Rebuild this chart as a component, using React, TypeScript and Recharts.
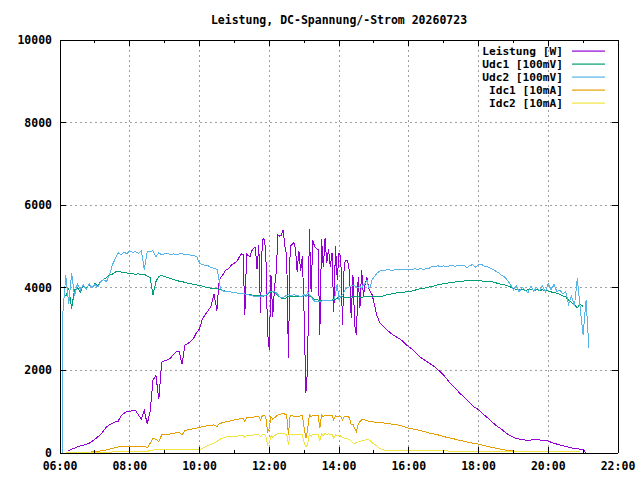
import React from 'react';
import { LineChart, Line, XAxis, YAxis, CartesianGrid, Legend } from 'recharts';

// ---- time axis (minutes since midnight) ----
const timesMorning = [
  364, 365, 370, 375, 380, 385, 390, 395, 400, 405,
  410, 415, 420, 425, 430, 435, 440, 445, 450, 455,
  460, 465, 470, 475, 480, 485, 490, 495, 500, 505,
  510, 515, 520, 525, 530, 535, 540, 545, 550, 555,
  560, 565, 570, 575, 580, 585, 590, 595, 600, 605,
  610, 615, 620, 625,
];
const timesMidday = [
  630, 633, 636, 639, 642, 645, 648, 651, 654, 657,
  660, 663, 666, 669, 672, 675, 678, 681, 684, 687,
  690, 693, 696, 699, 702, 705, 708, 711, 714, 717,
  720, 723, 726, 729, 732, 735, 738, 741, 744, 747,
  750, 753, 756, 759, 762, 765, 768, 771, 774, 777,
  780, 783, 786, 789, 792, 795, 798, 801, 804, 807,
  810, 813, 816, 819, 822, 825, 828, 831, 834, 837,
  840, 843, 846, 849, 852, 855, 858, 861, 864, 867,
  870, 873, 876, 879, 882, 885, 888, 891, 894, 897,
];
const timesEvening = [
  900, 905, 910, 915, 920, 925, 930, 935, 940, 945,
  950, 955, 960, 965, 970, 975, 980, 985, 990, 995,
  1000, 1005, 1010, 1015, 1020, 1025, 1030, 1035, 1040, 1045,
  1050, 1055, 1060, 1065, 1070, 1075, 1080, 1085, 1090, 1095,
  1100, 1105, 1110, 1115, 1120, 1125, 1130, 1135, 1140, 1145,
  1150, 1155, 1160, 1165, 1170, 1175, 1180, 1185, 1190, 1195,
  1200, 1205, 1210, 1215, 1220, 1225, 1230, 1235, 1240, 1245,
  1250, 1255, 1260, 1265, 1270,
];

// ---- Leistung [W] ----
const leistungMorning = [
  null, null, null, 50, 90, 120, 150, 170, 190, 210,
  235, 280, 330, 390, 450, 540, 630, 680, 720, 750,
  770, 900, 960, 1000, 1010, 1025, 1025, 920, 820, 1040,
  700, 1000, 1760, 1880, 1300, 2200, 2230, 2260, 2300, 2380,
  2450, 2460, 2150, 2620, 2650, 2700, 2780, 2920, 3000, 3250,
  3350, 3450, 3560, 3850,
];
const leistungMidday = [
  3450, 4070, 4250, 4290, 4350, 4430, 4440, 4480, 4540, 4570,
  4600, 4630, 4680, 4760, 4820, 4800, 3340, 4820, 4780, 4760,
  4900, 4960, 4980, 4450, 5040, 3400, 5150, 5190, 4900, 2940,
  2500, 4300, 3300, 4000, 4390, 5280, 5250, 5280, 5400, 4990,
  4800, 2290, 5000, 5050, 5100, 4960, 4390, 4900, 4400, 4760,
  3340, 1450, 2050, 5430, 3905, 5150, 5000, 4950, 4920, 2860,
  5180, 4500, 5200, 4600, 4950, 4500, 4840, 3420, 5000, 4190,
  4840, 4760, 3100, 4600, 4670, 4650, 4400, 3260, 4310, 3100,
  2860, 4270, 3500, 4430, 3800, 4100, 4250, 4000, 3905, 3830,
];
const leistungEvening = [
  3650, 3340, 3160, 3080, 3010, 2950, 2890, 2840, 2800, 2760,
  2700, 2630, 2570, 2520, 2460, 2380, 2320, 2270, 2220, 2180,
  2130, 2080, 2020, 1960, 1890, 1800, 1710, 1640, 1570, 1490,
  1420, 1350, 1280, 1210, 1140, 1090, 1050, 980, 920, 860,
  800, 730, 670, 620, 570, 510, 460, 420, 380, 355,
  335, 320, 315, 310, 315, 320, 315, 315, 310, 300,
  290, 260, 235, 215, 195, 175, 155, 140, 125, 110,
  100, 95, 85, 0, null,
];

// ---- Udc1 [100mV] ----
const udc1Morning = [
  null, null, 3800, 4000, 3500, 3950, 4000, 3900, 4050, 3980,
  4080, 4000, 4100, 4050, 4150, 4200, 4250, 4300, 4330, 4380,
  4400, 4380, 4360, 4360, 4350, 4340, 4330, 4340, 4320, 4330,
  4280, 4250, 3830, 4150, 4280, 4300, 4270, 4250, 4230, 4200,
  4180, 4160, 4150, 4130, 4110, 4100, 4080, 4070, 4060, 4040,
  4020, 4000, 3990, 3985,
];
const udc1Midday = [
  3980, 3960, 3950, 3940, 3930, 3920, 3910, 3900, 3900, 3890,
  3885, 3880, 3870, 3870, 3866, 3860, 3850, 3845, 3840, 3830,
  3825, 3820, 3815, 3810, 3810, 3805, 3800, 3800, 3810, 3850,
  3880, 3900, 3900, 3890, 3850, 3800, 3780, 3750, 3745, 3745,
  3760, 3780, 3790, 3790, 3790, 3785, 3780, 3780, 3790, 3800,
  3810, 3820, 3810, 3800, 3780, 3750, 3720, 3710, 3705, 3700,
  3700, 3700, 3700, 3700, 3700, 3700, 3705, 3710, 3720, 3750,
  3780, 3790, 3780, 3770, 3760, 3760, 3770, 3780, 3790, 3800,
  3790, 3780, 3770, 3770, 3780, 3790, 3790, 3800, 3800, 3800,
];
const udc1Evening = [
  3800, 3790, 3785, 3800, 3820, 3840, 3850, 3860, 3880, 3890,
  3895, 3900, 3905, 3920, 3940, 3960, 3980, 3990, 4000, 4020,
  4030, 4050, 4070, 4080, 4100, 4110, 4120, 4130, 4140, 4150,
  4160, 4165, 4170, 4170, 4170, 4170, 4165, 4165, 4160, 4160,
  4155, 4140, 4120, 4100, 4080, 4070, 4050, 4020, 3990, 3960,
  3950, 3960, 3940, 3950, 3960, 3940, 3950, 3940, 3950, 3930,
  3920, 3900, 3880, 3870, 3840, 3800, 3780, 3700, 3650, 3580,
  3520, 3600, 3550, null, null,
];

// ---- Udc2 [100mV] ----
const udc2Morning = [
  0, 3400, 4300, 3600, 4350, 3800, 4100, 3950, 4080, 3960,
  4100, 4000, 4080, 4020, 4150, 4200, 4150, 4300, 4550, 4700,
  4850, 4800, 4870, 4820, 4900, 4850, 4880, 4830, 4900, 4440,
  4870, 4870, 4900, 4750, 4850, 4800, 4820, 4830, 4800, 4820,
  4800, 4820, 4820, 4810, 4800, 4790, 4780, 4760, 4600, 4560,
  4540, 4530, 4490, 4470,
];
const udc2Midday = [
  4450, 4250, 3985, 3930, 3920, 3910, 3910, 3900, 3900, 3890,
  3890, 3880, 3870, 3870, 3860, 3870, 3850, 3830, 3830, 3820,
  3810, 3800, 3800, 3800, 3800, 3790, 3800, 3810, 3820, 3860,
  3900, 3920, 3900, 3910, 3880, 3840, 3780, 3770, 3760, 3790,
  3820, 3830, 3825, 3820, 3830, 3825, 3810, 3800, 3790, 3800,
  3840, 3780, 3900, 3830, 3800, 3720, 3680, 3665, 3660, 3670,
  3680, 3690, 3690, 3700, 3690, 3700, 3690, 3710, 3850, 4100,
  3700, 3800, 3830, 3900, 3985, 4000, 4030, 4050, 4060, 4050,
  4030, 4000, 4030, 3980, 4080, 4100, 4190, 4000, 4020, 4200,
];
const udc2Evening = [
  4250, 4350, 4400, 4430, 4430, 4440, 4420, 4430, 4440, 4450,
  4430, 4440, 4450, 4440, 4460, 4450, 4460, 4450, 4460, 4470,
  4520, 4520, 4530, 4520, 4530, 4520, 4530, 4540, 4520, 4540,
  4530, 4550, 4480, 4540, 4560, 4500, 4560, 4570, 4520, 4510,
  4480, 4440, 4400, 4360, 4300, 4260, 4180, 4080, 3950, 4050,
  3900, 4020, 3950, 3880, 4040, 3920, 4010, 3930, 4050, 3900,
  4100, 3950, 4080, 3900, 3950, 3850, 3920, 3600, 3800, 3550,
  4230, 3500, 2860, 3700, 2540,
];

// ---- Idc1 [10mA] ----
const idc1Morning = [
  null, null, 0, 5, 5, 10, 10, 15, 15, 20,
  20, 25, 30, 40, 50, 60, 73, 90, 110, 130,
  145, 150, 155, 160, 160, 165, 165, 160, 160, 170,
  120, 234, 355, 330, 280, 436, 440, 450, 460, 470,
  490, 500, 440, 540, 560, 575, 590, 605, 622, 635,
  650, 660, 670, 680,
];
const idc1Midday = [
  640, 700, 720, 730, 740, 758, 765, 770, 780, 790,
  800, 805, 810, 830, 840, 845, 760, 850, 855, 860,
  865, 870, 875, 880, 880, 800, 900, 920, 880, 518,
  600, 880, 820, 850, 890, 920, 930, 950, 960, 940,
  920, 436, 910, 900, 890, 880, 870, 880, 900, 910,
  600, 355, 560, 920, 880, 910, 910, 900, 905, 600,
  920, 880, 920, 900, 915, 900, 915, 800, 910, 880,
  900, 880, 800, 880, 885, 880, 860, 678, 700, 600,
  518, 700, 760, 800, 820, 800, 790, 770, 760, 755,
];
const idc1Evening = [
  750, 745, 740, 735, 720, 710, 700, 690, 680, 670,
  645, 620, 600, 590, 575, 560, 545, 525, 505, 485,
  470, 455, 440, 420, 400, 380, 365, 350, 335, 315,
  300, 285, 265, 250, 240, 225, 215, 195, 180, 160,
  145, 130, 115, 100, 90, 75, 60, 52, 48, 45,
  42, 42, 41, 40, 40, 40, 40, 39, 38, 38,
  37, 37, 36, 36, 35, 35, 35, 34, 34, 33,
  33, 32, null, null, null,
];

// ---- Idc2 [10mA] ----
const idc2Morning = [
  null, null, 0, 2, 4, 5, 6, 8, 10, 10,
  12, 14, 15, 16, 18, 20, 20, 22, 24, 25,
  26, 27, 28, 28, 29, 30, 30, 30, 30, 30,
  30, 70, 73, 73, 73, 73, 73, 73, 73, 73,
  73, 73, 73, 73, 73, 73, 73, 73, 80, 110,
  150, 185, 210, 240,
];
const idc2Midday = [
  280, 310, 340, 360, 370, 385, 390, 395, 400, 405,
  405, 410, 410, 415, 420, 420, 380, 425, 430, 430,
  435, 436, 440, 440, 445, 400, 450, 455, 430, 194,
  250, 420, 380, 420, 450, 470, 470, 475, 480, 460,
  450, 200, 450, 440, 440, 436, 436, 440, 440, 440,
  250, 153, 200, 470, 400, 460, 460, 460, 455, 300,
  460, 420, 475, 450, 465, 450, 460, 350, 440, 420,
  420, 410, 380, 360, 355, 340, 320, 290, 240, 234,
  250, 270, 280, 300, 310, 315, 320, 315, 300, 250,
];
const idc2Evening = [
  220, 170, 110, 80, 65, 60, 58, 57, 56, 55,
  55, 55, 54, 54, 53, 53, 52, 52, 52, 51,
  51, 50, 50, 50, 49, 49, 48, 48, 48, 47,
  47, 46, 46, 45, 45, 45, 44, 44, 44, 43,
  43, 42, 42, 42, 41, 41, 40, 40, 40, 39,
  39, 39, 38, 38, 38, 37, 37, 37, 36, 36,
  36, 35, 35, 35, 34, 34, 34, 33, 33, 33,
  32, 32, null, null, null,
];

// ---- axis ticks ----
const hourTicks = [360, 420, 480, 540, 600, 660, 720, 780, 840, 900, 960, 1020, 1080, 1140, 1200, 1260, 1320];
const majorTicks = [360, 480, 600, 720, 840, 960, 1080, 1200, 1320];
const xTickLabels = ['06:00', '08:00', '10:00', '12:00', '14:00', '16:00', '18:00', '20:00', '22:00'];
const yTicks = [0, 2000, 4000, 6000, 8000, 10000];

const seriesNames = ['Leistung [W]', 'Udc1 [100mV]', 'Udc2 [100mV]', 'Idc1 [10mA]', 'Idc2 [10mA]'];
const seriesColors = ['#9400d3', '#009e73', '#56b4e9', '#e69f00', '#f0e442'];
const title = 'Leistung, DC-Spannung/-Strom 20260723';

const times = [...timesMorning, ...timesMidday, ...timesEvening];
const leistung = [...leistungMorning, ...leistungMidday, ...leistungEvening];
const udc1 = [...udc1Morning, ...udc1Midday, ...udc1Evening];
const udc2 = [...udc2Morning, ...udc2Midday, ...udc2Evening];
const idc1 = [...idc1Morning, ...idc1Midday, ...idc1Evening];
const idc2 = [...idc2Morning, ...idc2Midday, ...idc2Evening];

const data = times.map((t, i) => ({
  t,
  s0: leistung[i],
  s1: udc1[i],
  s2: udc2[i],
  s3: idc1[i],
  s4: idc2[i],
}));

const FONT: React.CSSProperties = {
  fontFamily: "'DejaVu Sans Mono', 'Liberation Mono', monospace",
  fontWeight: 700,
  fontSize: 11.5,
};
const LEGEND_FONT: React.CSSProperties = { ...FONT, fontSize: 11.2 };

const BottomTick = (props: any) => {
  const { x, y, payload } = props;
  const idx = majorTicks.indexOf(payload.value);
  const major = idx >= 0;
  return (
    <g>
      <line x1={x} y1={y} x2={x} y2={y - (major ? 6 : 3)} stroke="#000" shapeRendering="crispEdges" />
      {major && (
        <text x={x} y={y + 17} textAnchor="middle" fill="#000" style={FONT}>
          {xTickLabels[idx]}
        </text>
      )}
    </g>
  );
};

const TopTick = (props: any) => {
  const { x, y, payload } = props;
  const major = majorTicks.indexOf(payload.value) >= 0;
  return <line x1={x} y1={y} x2={x} y2={y + (major ? 6 : 3)} stroke="#000" shapeRendering="crispEdges" />;
};

const LeftTick = (props: any) => {
  const { x, y, payload } = props;
  return (
    <g>
      <line x1={x} y1={y} x2={x + 6} y2={y} stroke="#000" shapeRendering="crispEdges" />
      <text x={x - 8} y={y} textAnchor="end" dominantBaseline="central" fill="#000" style={FONT}>
        {payload.value}
      </text>
    </g>
  );
};

const RightTick = (props: any) => {
  const { x, y } = props;
  return <line x1={x} y1={y} x2={x - 6} y2={y} stroke="#000" shapeRendering="crispEdges" />;
};

const LegendBox = (props: any) => {
  const payload = [...(props.payload || [])].sort(
    (a: any, b: any) => seriesNames.indexOf(a.value) - seriesNames.indexOf(b.value)
  );
  return (
    <svg width={150} height={72} style={{ display: 'block' }}>
      {payload.map((p: any, i: number) => {
        const yy = 7 + i * 13;
        const k = seriesNames.indexOf(p.value);
        const color = k >= 0 ? seriesColors[k] : p.color;
        return (
          <g key={String(p.value)}>
            <text x={93} y={yy} textAnchor="end" dominantBaseline="central" fill="#000" style={LEGEND_FONT}>
              {p.value}
            </text>
            <rect x={102} y={yy - 0.5} width={33} height={1.2} fill={color} />
          </g>
        );
      })}
    </svg>
  );
};

export default function App() {
  return (
    <div style={{ position: 'absolute', left: 0, top: 0, width: 640, height: 480, background: '#fff' }}>
      <div
        style={{
          ...FONT,
          position: 'absolute',
          left: 139,
          top: 13,
          width: 400,
          lineHeight: '14px',
          textAlign: 'center',
          whiteSpace: 'nowrap',
          color: '#000',
        }}
      >
        {title}
      </div>
      <LineChart width={640} height={480} data={data} margin={{ top: 0, right: 0, bottom: 0, left: 0 }}>
        <CartesianGrid xAxisId="grid" yAxisId="left" stroke="#a0a0a0" strokeDasharray="2 3" shapeRendering="crispEdges" />
        <XAxis
          xAxisId="grid"
          dataKey="t"
          type="number"
          domain={[360, 1320]}
          ticks={majorTicks}
          allowDataOverflow
          hide
        />
        <XAxis
          xAxisId="b"
          dataKey="t"
          type="number"
          orientation="bottom"
          domain={[360, 1320]}
          ticks={hourTicks}
          interval={0}
          allowDataOverflow
          height={27}
          tickSize={0}
          tickMargin={0}
          tickLine={false}
          axisLine={{ stroke: '#000', shapeRendering: 'crispEdges' }}
          tick={<BottomTick />}
        />
        <XAxis
          xAxisId="top"
          dataKey="t"
          type="number"
          orientation="top"
          domain={[360, 1320]}
          ticks={hourTicks}
          interval={0}
          allowDataOverflow
          height={40}
          tickSize={0}
          tickMargin={0}
          tickLine={false}
          axisLine={{ stroke: '#000', shapeRendering: 'crispEdges' }}
          tick={<TopTick />}
        />
        <YAxis
          yAxisId="left"
          type="number"
          domain={[0, 10000]}
          ticks={yTicks}
          interval={0}
          allowDataOverflow
          width={60}
          tickSize={0}
          tickMargin={0}
          tickLine={false}
          axisLine={{ stroke: '#000', shapeRendering: 'crispEdges' }}
          tick={<LeftTick />}
        />
        <YAxis
          yAxisId="right"
          orientation="right"
          type="number"
          domain={[0, 10000]}
          ticks={yTicks}
          interval={0}
          allowDataOverflow
          width={22}
          tickSize={0}
          tickMargin={0}
          tickLine={false}
          axisLine={{ stroke: '#000', shapeRendering: 'crispEdges' }}
          tick={<RightTick />}
        />
        <Legend
          layout="vertical"
          align="center"
          verticalAlign="middle"
          itemSorter={null}
          content={<LegendBox />}
          wrapperStyle={{ position: 'absolute', left: 470, top: 44, width: 150, height: 72 }}
        />
        {seriesNames.map((name, i) => (
          <Line
            key={name}
            xAxisId="b"
            yAxisId="left"
            dataKey={`s${i}`}
            name={name}
            type="linear"
            stroke={seriesColors[i]}
            strokeWidth={1}
            shapeRendering="crispEdges"
            dot={false}
            activeDot={false}
            isAnimationActive={false}
            connectNulls={false}
          />
        ))}
      </LineChart>
    </div>
  );
}
